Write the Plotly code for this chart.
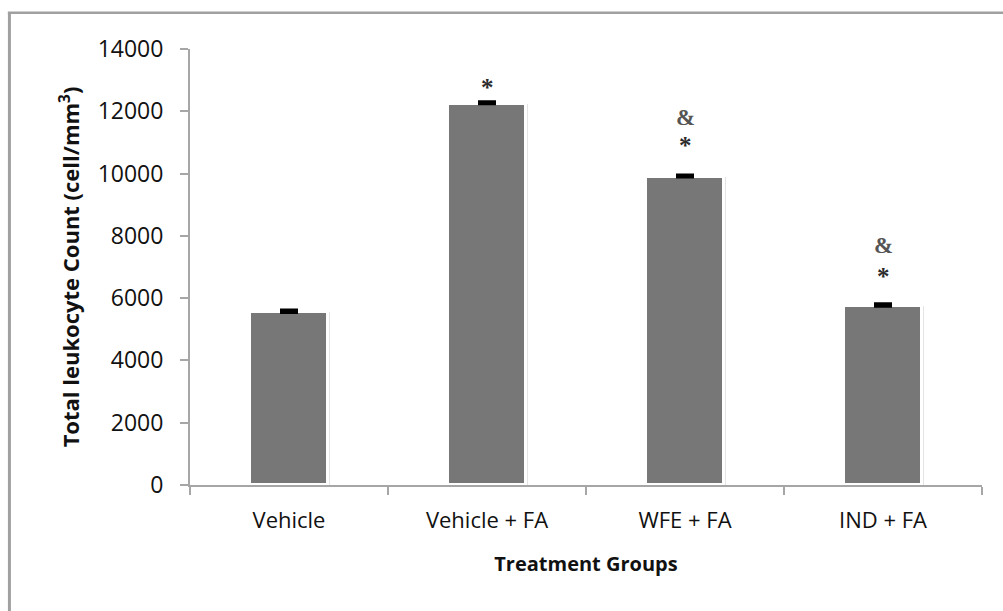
import plotly.graph_objects as go

# Treatment groups and mean total leukocyte counts (cells/mm^3)
groups = ["Vehicle", "Vehicle + FA", "WFE + FA", "IND + FA"]
means = [5550, 12250, 9900, 5750]
errors = [60, 50, 50, 60]

# Significance markers drawn above the bars
star_groups = ["Vehicle + FA", "WFE + FA", "IND + FA"]
star_y = [12908, 11014, 6839]
amp_groups = ["WFE + FA", "IND + FA"]
amp_y = [11785, 7706]

y_ticks = [0, 2000, 4000, 6000, 8000, 10000, 12000, 14000]
y_ticktext = [str(v) for v in y_ticks]

axis_gray = "#a6a6a6"
bar_gray = "#777777"

fig = go.Figure()

# soft halo behind each bar
fig.add_trace(go.Bar(
    x=groups, y=means, width=0.415,
    marker=dict(color="#e4e4e4", line=dict(width=0)),
    hoverinfo="skip", showlegend=False,
))

fig.add_trace(go.Bar(
    x=groups, y=means, width=0.39,
    marker=dict(color=bar_gray, line=dict(color="white", width=3)),
    error_y=dict(type="data", symmetric=False, array=errors,
                 arrayminus=[0] * len(errors),
                 color="black", thickness=3.5, width=9),
    showlegend=False,
))

annotations = []
for g, yv in zip(star_groups, star_y):
    annotations.append(dict(
        x=g, y=yv, xref="x", yref="y", text="<b>*</b>", showarrow=False,
        font=dict(family="Liberation Serif", size=25, color="#2b2b2b"),
        yanchor="middle", yshift=-4,
    ))
for g, yv in zip(amp_groups, amp_y):
    annotations.append(dict(
        x=g, y=yv, xref="x", yref="y", text="<b>&</b>", showarrow=False,
        font=dict(family="Liberation Serif", size=23, color="#555555"),
        yanchor="middle",
    ))

# outer chart frame (left and top edges)
shapes = [
    dict(type="line", xref="paper", yref="paper",
         x0=-0.228, x1=-0.228, y0=1.083, y1=-0.3,
         line=dict(color="#a0a0a0", width=3)),
    dict(type="line", xref="paper", yref="paper",
         x0=-0.23, x1=1.03, y0=1.083, y1=1.083,
         line=dict(color="#a0a0a0", width=2.5)),
]

fig.update_layout(
    width=1003, height=611,
    margin=dict(l=190, r=21, t=49, b=126),
    paper_bgcolor="white", plot_bgcolor="white",
    barmode="overlay", bargap=0,
    font=dict(family="Open Sans", color="#111111"),
    annotations=annotations, shapes=shapes,
    xaxis=dict(
        showline=True, linecolor=axis_gray, linewidth=2,
        ticks="outside", tickson="boundaries", ticklen=8,
        tickcolor=axis_gray, tickwidth=2,
        tickfont=dict(size=22, family="Open Sans"),
        ticklabelstandoff=15,
        title=dict(text="<b>Treatment Groups</b>",
                   font=dict(size=20, family="Open Sans"), standoff=24),
        showgrid=False, zeroline=False,
    ),
    yaxis=dict(
        range=[0, 14000], tickvals=y_ticks, ticktext=y_ticktext,
        showline=True, linecolor=axis_gray, linewidth=2,
        ticks="outside", ticklen=8, tickcolor=axis_gray, tickwidth=2,
        tickfont=dict(size=23, family="Open Sans"),
        ticklabelstandoff=12,
        title=dict(text="<b>Total leukocyte Count (cell/mm<sup>3</sup>)</b>",
                   font=dict(size=22, family="Open Sans"), standoff=12),
        showgrid=False, zeroline=False,
    ),
)

fig.write_html("out.html")
